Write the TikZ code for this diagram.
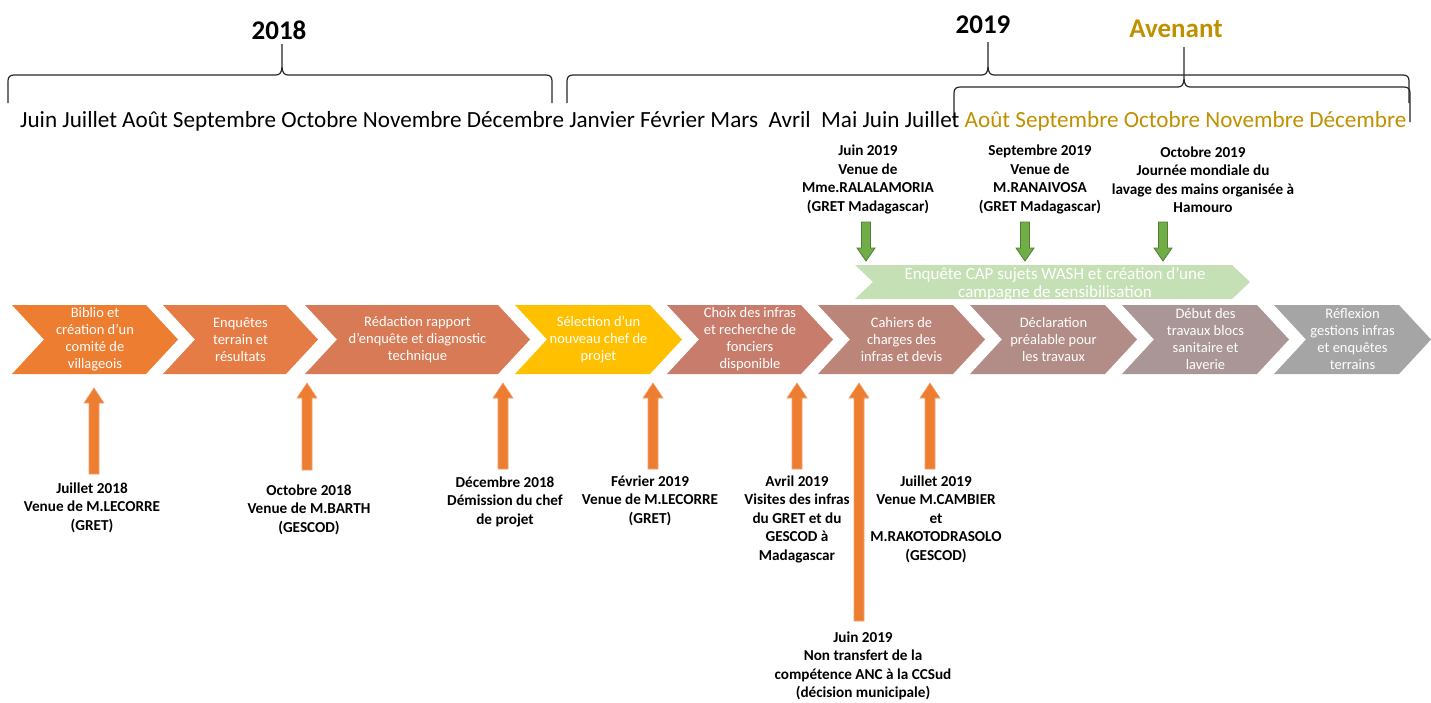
\documentclass[tikz,border=0pt]{standalone}
\usepackage{fontspec}
\setmainfont{Carlito}
\usetikzlibrary{calc}

\definecolor{gold}{RGB}{191,144,0}
\definecolor{cA}{RGB}{237,125,49}
\definecolor{cB}{RGB}{229,124,70}
\definecolor{cC}{RGB}{216,122,85}
\definecolor{cD}{RGB}{255,192,0}
\definecolor{cE}{RGB}{200,125,108}
\definecolor{cF}{RGB}{188,133,122}
\definecolor{cG}{RGB}{178,141,135}
\definecolor{cH}{RGB}{170,150,150}
\definecolor{cI}{RGB}{165,165,165}
\definecolor{wash}{RGB}{197,224,180}
\definecolor{arrorange}{RGB}{237,125,49}
\definecolor{arrorangeedge}{RGB}{244,160,110}
\definecolor{arrgreen}{RGB}{112,173,71}
\definecolor{arrgreenedge}{RGB}{80,126,50}

% chevron step: name, left x, tip x, colour, text
\newcommand\chevron[5]{%
  \fill[#4] (#2,305) -- (#3-32,305) -- (#3,339.5) -- (#3-32,374) -- (#2,374) -- (#2+32,339.5) -- cycle;
  \node[chevtext] (#1) at ({(#2+#3)/2},339.5) {#5};}

% block arrow: tail, tip, half shaft, half head, head length, style
\newcommand\blockarrow[6]{%
  \coordinate (hb) at ($(#2)!#5!(#1)$);
  \filldraw[#6] ($(#1)!#3!90:(#2)$) -- ($(hb)!#3!90:(#2)$) -- ($(hb)!#4!90:(#2)$) -- (#2)
    -- ($(hb)!#4!-90:(#2)$) -- ($(hb)!#3!-90:(#2)$) -- ($(#1)!#3!-90:(#2)$) -- cycle;}

% curly brace: left x, left foot y, middle x, right x, right foot y, bar y, top of stem y
\newcommand\yearbrace[7]{%
  \draw[bracestyle] (#1,#2) -- (#1,#6+6) .. controls (#1,#6+2) and (#1+2,#6) .. (#1+6,#6)
    -- (#3-6,#6) .. controls (#3-2,#6) and (#3,#6-3) .. (#3,#6-9) -- (#3,#7)
    (#3,#6-9) .. controls (#3,#6-3) and (#3+2,#6) .. (#3+6,#6)
    -- (#4-6,#6) .. controls (#4-2,#6) and (#4,#6+2) .. (#4,#6+6) -- (#4,#5);}

\begin{document}
\begin{tikzpicture}[x=1pt,y=-1pt,
  chevtext/.style={text=white,align=center,inner sep=0pt,font=\fontsize{14.5}{17}\selectfont},
  evtext/.style={align=center,inner sep=0pt,font=\bfseries\fontsize{15.2}{18.5}\selectfont},
  yeartext/.style={inner sep=0pt,font=\bfseries\fontsize{27}{30}\selectfont},
  bracestyle/.style={line width=1.2pt,black!85},
  uparr/.style={fill=arrorange,draw=arrorangeedge,line width=0.6pt},
  downarr/.style={fill=arrgreen,draw=arrgreenedge,line width=0.8pt}]
\useasboundingbox (0,0) rectangle (1431,702);

% years and braces
\node[yeartext] (y2018) at (279,30) {2018};
\node[yeartext] (y2019) at (983,25) {2019};
\node[yeartext,text=gold] (avenant) at (1176,29) {Avenant};
\yearbrace{8}{103}{282}{552}{103}{75}{44}
\yearbrace{567}{103}{988}{1409}{103}{75}{42}
\yearbrace{954}{120}{1184}{1410}{122}{87}{47}

% months
\node[anchor=base west,inner sep=0pt,font=\fontsize{23.15}{26}\selectfont] (months) at (20,127)
  {Juin Juillet Août Septembre Octobre Novembre Décembre Janvier Février Mars~ Avril~ Mai Juin Juillet \textcolor{gold}{Août Septembre Octobre Novembre Décembre}};

% project steps
\chevron{s1}{12}{178}{cA}{Biblio et\\création d’un\\comité de\\villageois}
\chevron{s2}{163}{318}{cB}{Enquêtes\\terrain et\\résultats}
\chevron{s3}{305}{530}{cC}{Rédaction rapport\\d’enquête et diagnostic\\technique}
\chevron{s4}{515}{682}{cD}{Sélection d’un\\nouveau chef de\\projet}
\chevron{s5}{667}{833}{cE}{Choix des infras\\et recherche de\\fonciers\\disponible}
\chevron{s6}{818}{985}{cF}{Cahiers de\\charges des\\infras et devis}
\chevron{s7}{970}{1137}{cG}{Déclaration\\préalable pour\\les travaux}
\chevron{s8}{1122}{1289}{cH}{Début des\\travaux blocs\\sanitaire et\\laverie}
\chevron{s9}{1274}{1431}{cI}{Réflexion\\gestions infras\\et enquêtes\\terrains}

% WASH campaign band
\fill[wash] (855,265) -- (1232,265) -- (1250,282) -- (1232,299) -- (855,299) -- (873,282) -- cycle;
\node[text=white,align=center,inner sep=0pt,font=\fontsize{17}{18.5}\selectfont] (wash) at (1055,284)
  {Enquête CAP sujets WASH et création d’une\\campagne de sensibilisation};

% events above
\node[evtext] (e1) at (868,179.5) {Juin 2019\\Venue de\\Mme.RALALAMORIA\\(GRET Madagascar)};
\node[evtext] (e2) at (1040,179.5) {Septembre 2019\\Venue de\\M.RANAIVOSA\\(GRET Madagascar)};
\node[evtext] (e3) at (1203,179.5) {Octobre 2019\\Journée mondiale du\\lavage des mains organisée à\\Hamouro};
\coordinate (g1t) at (866,222); \coordinate (g1h) at (866,261);
\coordinate (g2t) at (1025,222); \coordinate (g2h) at (1025,261);
\coordinate (g3t) at (1163,222); \coordinate (g3h) at (1163,261);
\blockarrow{g1t}{g1h}{4.5pt}{9pt}{13pt}{downarr}
\blockarrow{g2t}{g2h}{4.5pt}{9pt}{13pt}{downarr}
\blockarrow{g3t}{g3h}{4.5pt}{9pt}{13pt}{downarr}

% events below
\node[evtext] (b1) at (92,507.5) {Juillet 2018\\Venue de M.LECORRE\\(GRET)};
\node[evtext] (b2) at (309,509.5) {Octobre 2018\\Venue de M.BARTH\\(GESCOD)};
\node[evtext] (b3) at (505,501.5) {Décembre 2018\\Démission du chef\\de projet};
\node[evtext] (b4) at (650,500.5) {Février 2019\\Venue de M.LECORRE\\(GRET)};
\node[evtext] (b5) at (797,519) {Avril 2019\\Visites des infras\\du GRET et du\\GESCOD à\\Madagascar};
\node[evtext] (b6) at (863,666) {Juin 2019\\Non transfert de la\\compétence ANC à la CCSud\\(décision municipale)};
\node[evtext] (b7) at (936,519) {Juillet 2019\\Venue M.CAMBIER\\et\\M.RAKOTODRASOLO\\(GESCOD)};
\coordinate (o1t) at (94,474); \coordinate (o1h) at (94,388);
\coordinate (o2t) at (307,470); \coordinate (o2h) at (307,383);
\coordinate (o3t) at (503,469); \coordinate (o3h) at (503,383);
\coordinate (o4t) at (653,469); \coordinate (o4h) at (653,383);
\coordinate (o5t) at (797,469); \coordinate (o5h) at (797,383);
\coordinate (o6t) at (859,621); \coordinate (o6h) at (859,383);
\coordinate (o7t) at (930,469); \coordinate (o7h) at (930,383);
\blockarrow{o1t}{o1h}{5pt}{10pt}{15pt}{uparr}
\blockarrow{o2t}{o2h}{5pt}{10pt}{15pt}{uparr}
\blockarrow{o3t}{o3h}{5pt}{10pt}{15pt}{uparr}
\blockarrow{o4t}{o4h}{5pt}{10pt}{15pt}{uparr}
\blockarrow{o5t}{o5h}{5pt}{10pt}{15pt}{uparr}
\blockarrow{o6t}{o6h}{5pt}{10pt}{15pt}{uparr}
\blockarrow{o7t}{o7h}{5pt}{10pt}{15pt}{uparr}
\end{tikzpicture}
\end{document}
